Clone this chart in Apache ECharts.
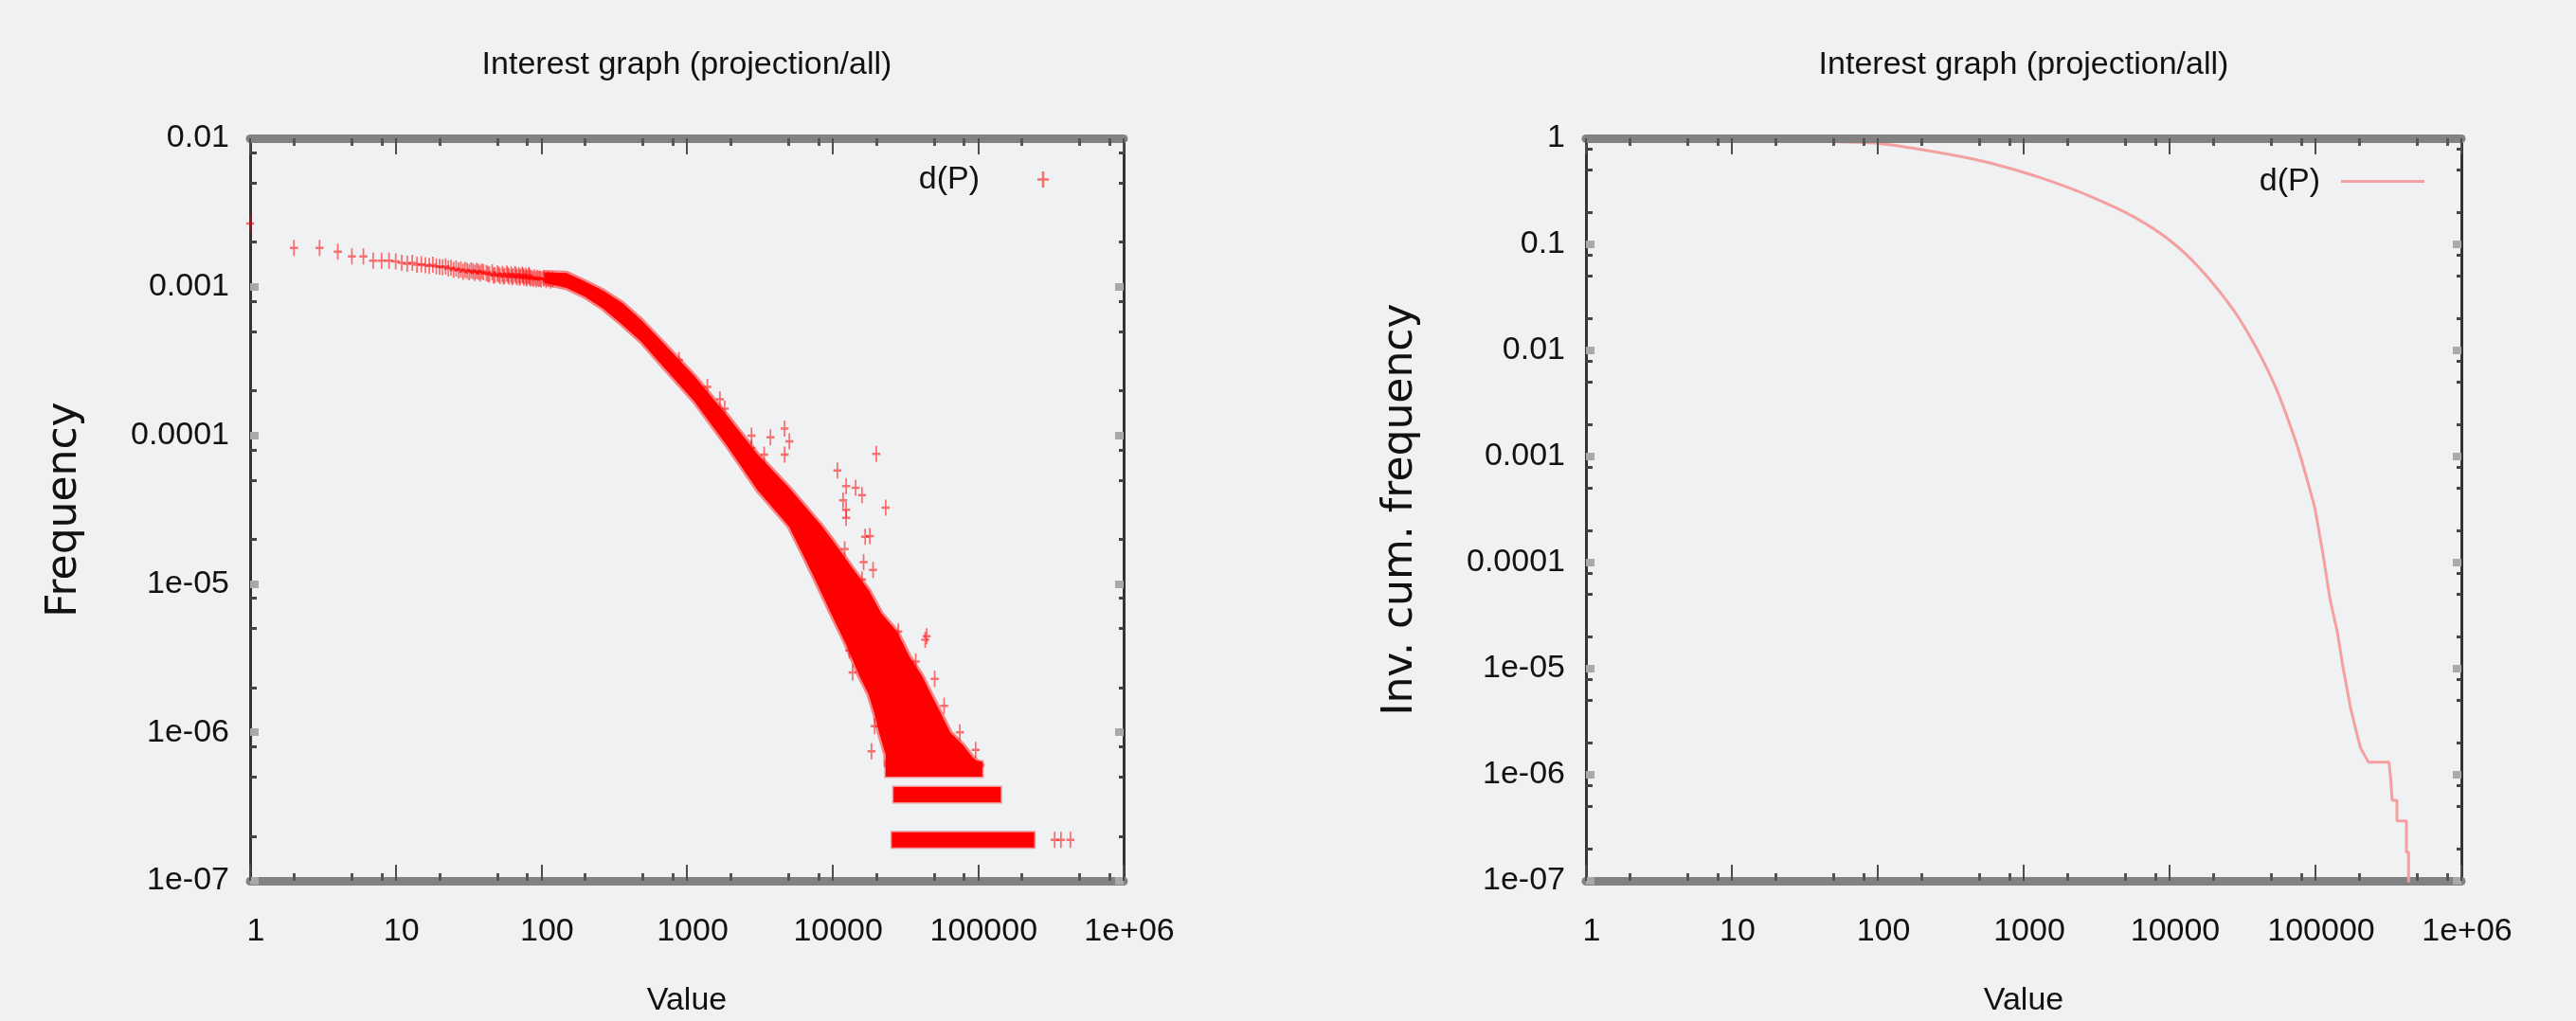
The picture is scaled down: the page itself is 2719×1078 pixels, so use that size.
<!DOCTYPE html>
<html>
<head>
<meta charset="utf-8">
<script src="https://cdn.jsdelivr.net/npm/echarts@6/dist/echarts.min.js"></script>
<style>
html,body{margin:0;padding:0;background:#f0f1f3;overflow:hidden;}
#chart{width:2719px;height:1078px;}
</style>
</head>
<body>
<div id="chart"></div>
<script>
// ---------- tick labels ----------
const xTickLabels = ['1', '10', '100', '1000', '10000', '100000', '1e+06'];          // exponents 0..6
const leftYTickLabels = ['1e-07', '1e-06', '1e-05', '0.0001', '0.001', '0.01'];          // exponents -7..-2
const rightYTickLabels = ['1e-07', '1e-06', '1e-05', '0.0001', '0.001', '0.01', '0.1', '1']; // -7..0
const xMinorTicks = [2, 5, 8, 20, 50, 80, 200, 500, 800, 2000, 5000, 8000, 20000, 50000, 80000, 200000, 500000, 800000];
const leftYMinorTicks = [2e-7, 5e-7, 8e-7, 2e-6, 5e-6, 8e-6, 2e-5, 5e-5, 8e-5, 2e-4, 5e-4, 8e-4, 2e-3, 5e-3, 8e-3];
const rightYMinorTicks = [2e-7, 5e-7, 8e-7, 2e-6, 5e-6, 8e-6, 2e-5, 5e-5, 8e-5, 2e-4, 5e-4, 8e-4, 2e-3, 5e-3, 8e-3, 2e-2, 5e-2, 8e-2, 0.2, 0.5, 0.8];

// ---------- left plot: frequency ----------
// individual points of the low-degree part
const flatX = [1, 2, 3, 4, 5, 6, 7, 8, 9, 10,
  11, 12, 13, 14, 15, 16, 17, 18, 19, 20,
  21, 22, 23, 24, 25, 26, 27, 28, 29, 30, 31, 32, 33, 34, 35, 36, 37, 38, 39, 40,
  42, 44, 46, 48, 50, 52, 54, 56, 58, 60, 62, 64, 66, 68, 70, 72, 74, 76, 78, 80, 82, 84,
  43, 47, 51, 55, 59, 63, 67, 71, 75, 79, 83, 86, 88, 90, 92, 94, 96, 98, 100, 104, 108, 112, 116, 120];
const flatY = [2.67e-3, 1.83e-3, 1.83e-3, 1.72e-3, 1.60e-3, 1.60e-3, 1.50e-3, 1.50e-3, 1.50e-3, 1.48e-3,
  1.45e-3, 1.43e-3, 1.45e-3, 1.41e-3, 1.42e-3, 1.40e-3, 1.38e-3, 1.41e-3, 1.37e-3, 1.36e-3,
  1.35e-3, 1.37e-3, 1.33e-3, 1.34e-3, 1.30e-3, 1.33e-3, 1.29e-3, 1.31e-3, 1.26e-3, 1.30e-3,
  1.28e-3, 1.25e-3, 1.29e-3, 1.27e-3, 1.24e-3, 1.28e-3, 1.26e-3, 1.23e-3, 1.27e-3, 1.25e-3,
  1.24e-3, 1.21e-3, 1.25e-3, 1.20e-3, 1.23e-3, 1.18e-3, 1.22e-3, 1.19e-3, 1.23e-3, 1.17e-3,
  1.21e-3, 1.18e-3, 1.22e-3, 1.16e-3, 1.20e-3, 1.17e-3, 1.21e-3, 1.15e-3, 1.19e-3, 1.16e-3, 1.20e-3, 1.14e-3,
  1.22e-3, 1.19e-3, 1.21e-3, 1.17e-3, 1.20e-3, 1.16e-3, 1.19e-3, 1.15e-3, 1.18e-3, 1.14e-3, 1.17e-3,
  1.15e-3, 1.13e-3, 1.16e-3, 1.12e-3, 1.15e-3, 1.13e-3, 1.14e-3, 1.12e-3, 1.14e-3, 1.11e-3, 1.13e-3, 1.10e-3, 1.12e-3];

// outline of the dense cloud of points (upper edge left->right, lower edge right->left)
const bandTopX = [105, 149, 198, 267, 361, 487, 687, 1125, 1875, 3070, 5035, 8380, 10180, 13740, 17740, 21530, 27800, 33740, 41020, 47640, 55340, 64300, 79250, 92060, 107000];
const bandTopY = [1.25e-3, 1.24e-3, 1.09e-3, 9.4e-4, 7.76e-4, 5.97e-4, 4.19e-4, 2.51e-4, 1.37e-4, 7.41e-5, 4.44e-5, 2.47e-5, 1.92e-5, 1.27e-5, 9.08e-6, 6.38e-6, 4.75e-6, 3.24e-6, 2.42e-6, 1.80e-6, 1.35e-6, 1.0e-6, 8.17e-7, 6.75e-7, 6.0e-7];
const bandBottomX = [23220, 23220, 20900, 19400, 17740, 15250, 12370, 9730, 7890, 6500, 5035, 3070, 1875, 1125, 687, 487, 361, 267, 198, 149, 105];
const bandBottomY = [6.0e-7, 7.05e-7, 1.0e-6, 1.35e-6, 1.80e-6, 2.42e-6, 3.93e-6, 6.38e-6, 9.9e-6, 1.47e-5, 2.43e-5, 4.25e-5, 8.59e-5, 1.69e-4, 2.90e-4, 4.26e-4, 5.55e-4, 7.11e-4, 8.61e-4, 9.82e-4, 1.06e-3];

// isolated points scattered around the cloud
const outlierX = [882, 1383, 1687, 1819, 2780, 2780, 3396, 3750, 4690, 5060, 4690, 20000, 10810, 12420, 14430, 15960, 11830, 12420, 12420, 23220, 16780, 18070, 12130, 16370, 19010, 15960, 28330, 44400, 43360, 37320, 50360, 58480, 75000, 96300, 13740, 13070, 18540, 19480];
const outlierY = [3.22e-4, 2.12e-4, 1.75e-4, 1.51e-4, 9.93e-5, 8.2e-5, 7.4e-5, 9.7e-5, 1.11e-4, 9.1e-5, 7.41e-5, 7.48e-5, 5.8e-5, 4.55e-5, 4.44e-5, 3.96e-5, 3.65e-5, 3.15e-5, 2.78e-5, 3.26e-5, 2.07e-5, 2.1e-5, 1.71e-5, 1.40e-5, 1.24e-5, 1.07e-5, 4.78e-6, 4.44e-6, 4.2e-6, 3.0e-6, 2.29e-6, 1.51e-6, 1.0e-6, 7.62e-7, 2.53e-6, 3.56e-6, 7.45e-7, 1.1e-6];

// horizontal rows at 1/N, 2/N, 3/N
const floorY = [1.89e-7, 3.8e-7, 5.65e-7];
const floorXStart = [25600, 26300, 23200];
const floorXEnd = [243000, 143000, 107000];
const tailX = [336000, 371000, 431000];
const tailY = [1.89e-7, 1.89e-7, 1.89e-7];

// ---------- right plot: inverse cumulative frequency ----------
const cumX = [1, 10, 30, 62, 102, 200, 437, 724, 1380, 2820, 5750, 10230, 16200, 27500, 39800, 52500, 63100, 77600, 98900,
  112000, 126000, 141000, 155000, 174000, 191000, 204000, 231000, 319600, 327300, 335700, 361700, 361800, 420200, 420300, 434600, 434700];
const cumY = [1, 0.98, 0.95, 0.92, 0.893, 0.782, 0.643, 0.543, 0.414, 0.286, 0.18, 0.107, 0.0589, 0.0239, 0.01026, 0.00473, 0.00248, 0.00108, 3.31e-4,
  1.26e-4, 4.47e-5, 2.24e-5, 1.0e-5, 4.27e-6, 2.51e-6, 1.78e-6, 1.31e-6, 1.31e-6, 9.27e-7, 5.75e-7, 5.75e-7, 3.67e-7, 3.67e-7, 1.86e-7, 1.86e-7, 1e-8];
const cumSmoothEnd = 18; // index where the smooth part ends and the step-like tail begins

// ---------- styling ----------
const FONT = "'Liberation Sans',Arial,sans-serif";
const YNAME_FONT = "'DejaVu Sans',sans-serif";
const FS = 34;
const TEXT = '#111';
const PLUS = 'path://M4.75,0h2.5v7.25h4.75v2.5h-4.75v7.25h-2.5v-7.25h-4.75v-2.5h4.75z';
const TITLE = 'Interest graph (projection/all)';
const LINE_COLOR = '#f4a0a0';

function expLabel(labels, offset) {
  return function (v) { return labels[Math.round(Math.log10(v)) + offset]; };
}

function makeXAxes(g) {
  const base = { gridIndex: g, type: 'log', logBase: 10, min: 1, max: 1e6,
    splitLine: { show: false }, minorTick: { show: false }, minorSplitLine: { show: false } };
  const majorTick = { show: true, inside: true, length: 17, lineStyle: { color: '#4d4d4d', width: 2 } };
  const minorTick = { show: true, inside: true, length: 8, customValues: xMinorTicks, lineStyle: { color: '#555', width: 3 } };
  const line = { show: true, onZero: false, lineStyle: { color: '#828282', width: 9 } };
  return [
    Object.assign({}, base, { position: 'bottom', axisLine: line, axisTick: majorTick,
      axisLabel: { show: true, margin: 37, fontSize: FS, fontFamily: FONT, color: TEXT, padding: [0, 0, 0, 12],
        showMinLabel: true, showMaxLabel: true, formatter: expLabel(xTickLabels, 0) },
      name: 'Value', nameLocation: 'middle', nameGap: 110,
      nameTextStyle: { fontSize: FS, fontFamily: FONT, color: TEXT } }),
    Object.assign({}, base, { position: 'bottom', axisLine: { show: false }, axisTick: minorTick, axisLabel: { show: false } }),
    Object.assign({}, base, { position: 'top', z: 10, axisLine: line, axisTick: majorTick, axisLabel: { show: false },
      name: TITLE, nameLocation: 'middle', nameGap: 60,
      nameTextStyle: { fontSize: FS, fontFamily: FONT, color: TEXT } }),
    Object.assign({}, base, { position: 'top', z: 10, axisLine: { show: false }, axisTick: minorTick, axisLabel: { show: false } })
  ];
}

function makeYAxes(g, min, max, labels, minorVals, name) {
  const base = { gridIndex: g, type: 'log', logBase: 10, min: min, max: max,
    splitLine: { show: false }, minorTick: { show: false }, minorSplitLine: { show: false } };
  const line = { show: true, onZero: false, lineStyle: { color: '#333', width: 3 } };
  const majorTick = { show: true, inside: true, length: 9, lineStyle: { color: '#a9a9a9', width: 8 } };
  const minorTick = { show: true, inside: true, length: 7, customValues: minorVals, lineStyle: { color: '#444', width: 3 } };
  return [
    Object.assign({}, base, { position: 'left', axisLine: line, axisTick: majorTick,
      axisLabel: { show: true, margin: 22, fontSize: FS, fontFamily: FONT, color: TEXT,
        showMinLabel: true, showMaxLabel: true, formatter: expLabel(labels, 7) },
      name: name, nameLocation: 'middle', nameGap: 173,
      nameTextStyle: { fontSize: 44, fontFamily: YNAME_FONT, color: TEXT } }),
    Object.assign({}, base, { position: 'left', axisLine: { show: false }, axisTick: minorTick, axisLabel: { show: false } }),
    Object.assign({}, base, { position: 'right', axisLine: line, axisTick: majorTick, axisLabel: { show: false } }),
    Object.assign({}, base, { position: 'right', axisLine: { show: false },
      axisTick: Object.assign({}, minorTick, { length: 5 }), axisLabel: { show: false } })
  ];
}

const scatterData = [];
flatX.forEach((x, i) => scatterData.push([x, flatY[i]]));
outlierX.forEach((x, i) => scatterData.push([x, outlierY[i]]));
tailX.forEach((x, i) => scatterData.push([x, tailY[i]]));

const bandData = bandTopX.map((x, i) => [x, bandTopY[i]]);
const floorData = floorY.map((y, i) => [floorXStart[i], floorXEnd[i], y]);
const cumData = cumX.map((x, i) => [x, cumY[i]]);

const option = {
  backgroundColor: '#f0f1f3',
  animation: false,
  grid: [
    { left: 264, top: 146, width: 922, height: 784, containLabel: false, outerBoundsMode: 'none' },
    { left: 1674, top: 146, width: 924, height: 784, containLabel: false, outerBoundsMode: 'none' }
  ],
  xAxis: makeXAxes(0).concat(makeXAxes(1)),
  yAxis: makeYAxes(0, 1e-7, 0.01, leftYTickLabels, leftYMinorTicks, 'Frequency')
    .concat(makeYAxes(1, 1e-7, 1, rightYTickLabels, rightYMinorTicks, 'Inv. cum. frequency')),
  legend: [
    { data: ['d(P)'], right: 1612, top: 172.5, padding: 0, itemGap: 0, align: 'right',
      itemWidth: 12, itemHeight: 17, selectedMode: false, symbolKeepAspect: true,
      textStyle: { fontSize: FS, fontFamily: FONT, color: TEXT, padding: [0, 56, 0, 0] } },
    { data: [{ name: 'd(P) cum', icon: 'rect' }], right: 160, top: 174.5, padding: 0, itemGap: 0, align: 'right',
      itemWidth: 88, itemHeight: 3, selectedMode: false, formatter: function () { return 'd(P)'; },
      textStyle: { fontSize: FS, fontFamily: FONT, color: TEXT, padding: [0, 17, 0, 0] } }
  ],
  series: [
    {
      name: 'cloud', type: 'custom', xAxisIndex: 0, yAxisIndex: 0, z: 2, clip: true,
      data: bandData, encode: { x: 0, y: 1 },
      renderItem: function (params, api) {
        if (params.dataIndex !== 0) return null;
        const pts = [];
        for (let i = 0; i < bandTopX.length; i++) pts.push(api.coord([bandTopX[i], bandTopY[i]]));
        for (let i = 0; i < bandBottomX.length; i++) pts.push(api.coord([bandBottomX[i], bandBottomY[i]]));
        return { type: 'polygon', shape: { points: pts },
          style: { fill: '#ff0000', stroke: 'rgba(255,0,0,0.45)', lineWidth: 5, lineJoin: 'round' } };
      }
    },
    {
      name: 'rows', type: 'custom', xAxisIndex: 0, yAxisIndex: 0, z: 2, clip: true,
      data: floorData, encode: { x: [0, 1], y: 2 },
      renderItem: function (params, api) {
        const p0 = api.coord([api.value(0), api.value(2)]);
        const p1 = api.coord([api.value(1), api.value(2)]);
        return { type: 'rect', shape: { x: p0[0], y: p0[1] - 8, width: p1[0] - p0[0], height: 16 },
          style: { fill: '#ff0000', stroke: 'rgba(255,0,0,0.4)', lineWidth: 3 } };
      }
    },
    {
      name: 'd(P)', type: 'scatter', xAxisIndex: 0, yAxisIndex: 0, z: 3,
      symbol: PLUS, symbolSize: [12, 17], symbolKeepAspect: true,
      itemStyle: { color: 'rgba(255,0,0,0.68)' },
      data: scatterData
    },
    {
      name: 'd(P) cum', type: 'line', xAxisIndex: 4, yAxisIndex: 4, z: 3, clip: true,
      symbol: 'none', showSymbol: false, smooth: 0.3,
      lineStyle: { color: LINE_COLOR, width: 3 },
      itemStyle: { color: LINE_COLOR },
      data: cumData.slice(0, cumSmoothEnd + 1)
    },
    {
      name: 'd(P) tail', type: 'line', xAxisIndex: 4, yAxisIndex: 4, z: 3, clip: true,
      symbol: 'none', showSymbol: false,
      lineStyle: { color: LINE_COLOR, width: 3 },
      itemStyle: { color: LINE_COLOR },
      data: cumData.slice(cumSmoothEnd)
    }
  ]
};

const chart = echarts.init(document.getElementById('chart'), null, { renderer: 'canvas', width: 2719, height: 1078 });
chart.setOption(option);
</script>
</body>
</html>
